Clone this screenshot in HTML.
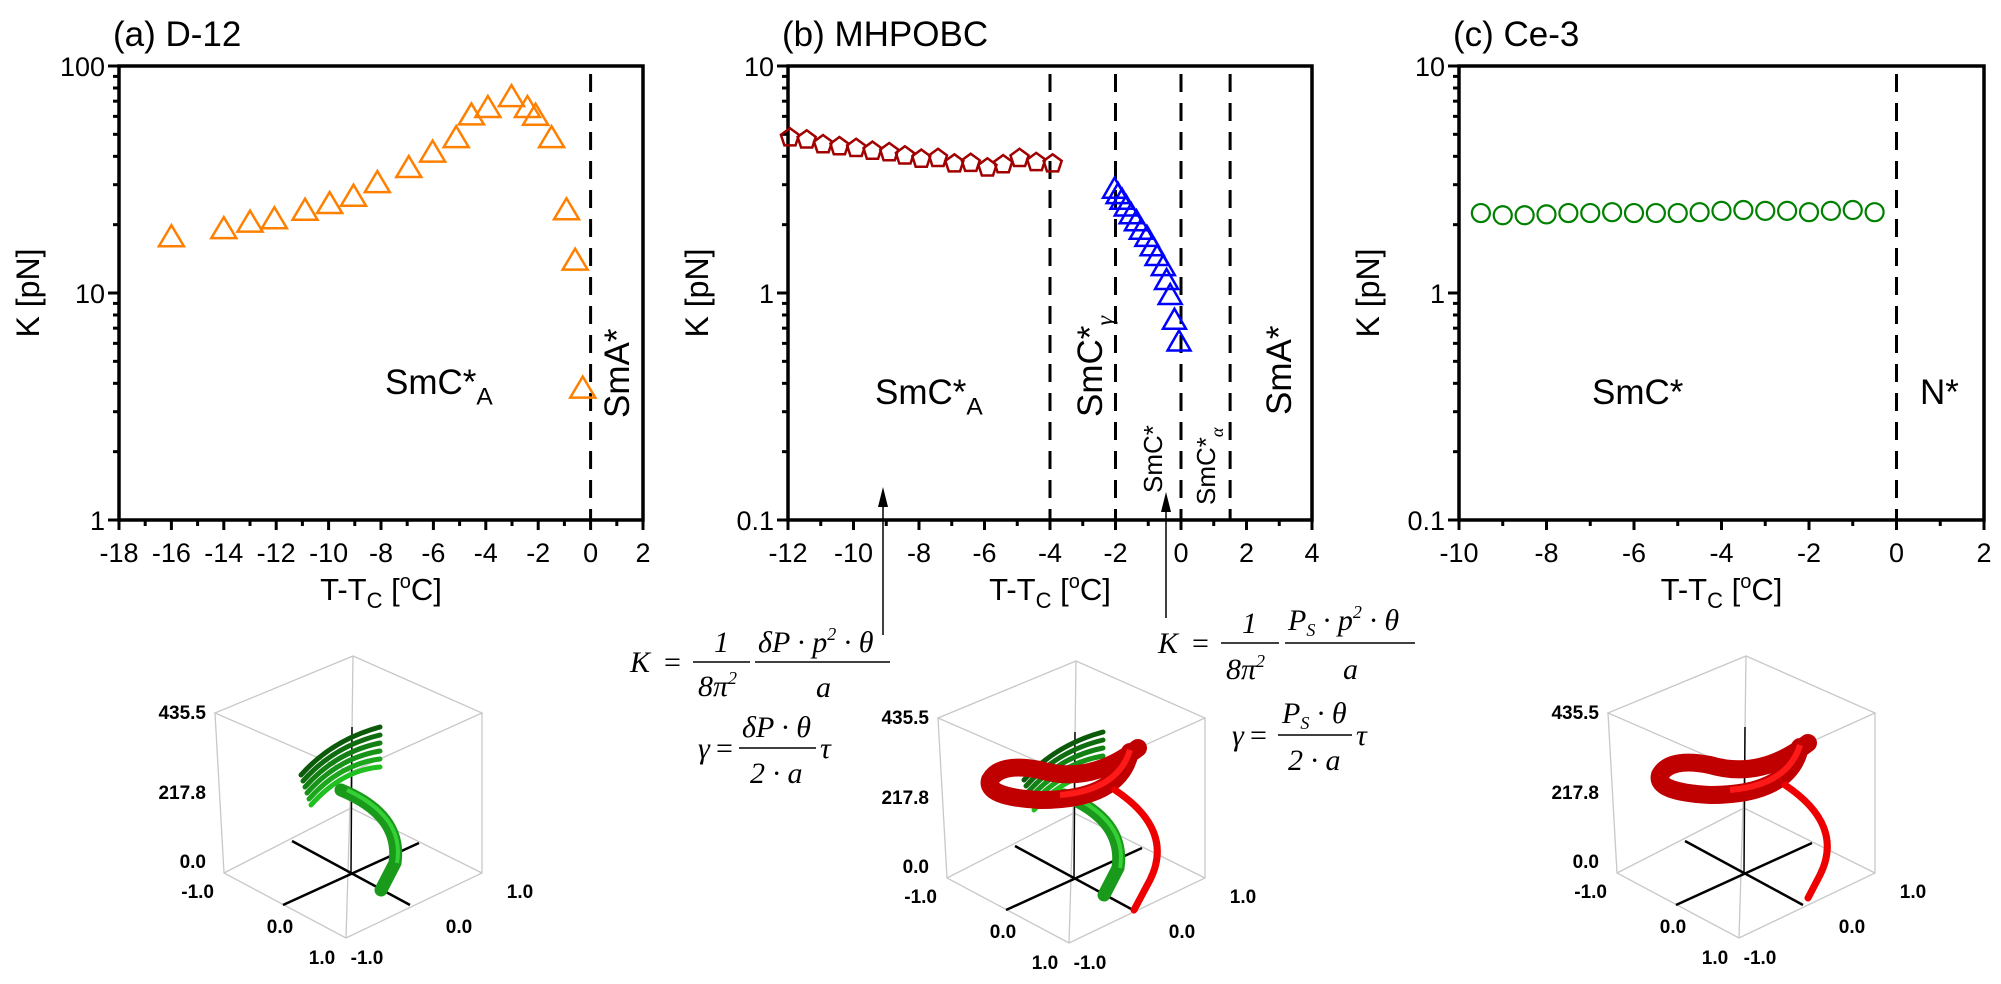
<!DOCTYPE html>
<html><head><meta charset="utf-8">
<style>
html,body{margin:0;padding:0;background:#fff;}
svg{display:block;font-family:"Liberation Sans",Arial,sans-serif;}
.f{font-family:"Liberation Serif",serif;font-style:italic;}
</style></head>
<body>
<svg id="fig" width="2001" height="984" viewBox="0 0 2001 984" xmlns="http://www.w3.org/2000/svg">
<g id="charts"></g>
<g id="anno">
  <g font-size="30">
    <text class="f" x="630" y="672">K</text><text x="664" y="672" font-family="Liberation Serif">=</text>
    <line x1="693" y1="662" x2="750" y2="662" stroke="#000" stroke-width="1.5"/>
    <text class="f" x="714" y="652" font-style="normal">1</text>
    <text class="f" x="698" y="696">8π<tspan font-size="18" dy="-12">2</tspan></text>
    <line x1="755" y1="662" x2="890" y2="662" stroke="#000" stroke-width="1.5"/>
    <text class="f" x="758" y="652">δP · p<tspan font-size="18" dy="-12">2</tspan><tspan dy="12"> · θ</tspan></text>
    <text class="f" x="816" y="697">a</text>
    <text class="f" x="698" y="758">γ</text><text x="716" y="758" font-family="Liberation Serif">=</text>
    <line x1="739" y1="748" x2="816" y2="748" stroke="#000" stroke-width="1.5"/>
    <text class="f" x="742" y="737">δP · θ</text>
    <text class="f" x="750" y="783">2 · a</text>
    <text class="f" x="820" y="758">τ</text>
  </g>
  <g font-size="30">
    <text class="f" x="1158" y="653">K</text><text x="1192" y="653" font-family="Liberation Serif">=</text>
    <line x1="1221" y1="643" x2="1279" y2="643" stroke="#000" stroke-width="1.5"/>
    <text class="f" x="1242" y="633" font-style="normal">1</text>
    <text class="f" x="1226" y="679">8π<tspan font-size="18" dy="-12">2</tspan></text>
    <line x1="1285" y1="643" x2="1415" y2="643" stroke="#000" stroke-width="1.5"/>
    <text class="f" x="1288" y="630">P<tspan font-size="18" dy="6">S</tspan><tspan dy="-6"> · p</tspan><tspan font-size="18" dy="-12">2</tspan><tspan dy="12"> · θ</tspan></text>
    <text class="f" x="1343" y="679">a</text>
    <text class="f" x="1232" y="745">γ</text><text x="1250" y="745" font-family="Liberation Serif">=</text>
    <line x1="1278" y1="735" x2="1352" y2="735" stroke="#000" stroke-width="1.5"/>
    <text class="f" x="1282" y="723">P<tspan font-size="18" dy="6">S</tspan><tspan dy="-6"> · θ</tspan></text>
    <text class="f" x="1288" y="770">2 · a</text>
    <text class="f" x="1356" y="745">τ</text>
  </g>
  <g>
    <line x1="883" y1="635" x2="883" y2="505" stroke="#000" stroke-width="1.5"/>
    <polygon points="883,487 878,507 888,507" fill="#000"/>
  </g>
  <g>
    <line x1="1166" y1="618" x2="1166" y2="510" stroke="#000" stroke-width="1.5"/>
    <polygon points="1166,492 1161,512 1171,512" fill="#000"/>
  </g>
</g>
<g id="cubes"></g>
</svg>
<script>
// ---------- data ----------
const aX = [-16,-14,-13,-12.07,-10.9,-9.96,-9.05,-8.14,-6.94,-6.03,-5.13,-4.55,-3.92,-3.02,-2.41,-2.1,-1.49,-0.92,-0.59,-0.3];
const aK = [17.5,19,20.3,21,22.9,24.5,26.4,30.3,35.3,41.3,47.8,60.2,64.9,72.5,64.9,60,47.8,23,13.8,3.77];
const bX1 = [-11.94,-11.43,-10.93,-10.43,-9.92,-9.42,-8.91,-8.43,-7.93,-7.42,-6.92,-6.42,-5.91,-5.43,-4.93,-4.42,-3.92];
const bK1 = [4.83,4.73,4.51,4.42,4.34,4.22,4.16,4.02,3.89,3.92,3.71,3.73,3.56,3.68,3.92,3.76,3.71];
const bX2 = [-2.03,-1.92,-1.8,-1.67,-1.52,-1.36,-1.21,-1.04,-0.88,-0.73,-0.54,-0.44,-0.33,-0.2,-0.06];
const bK2 = [2.85,2.7,2.55,2.38,2.2,2.05,1.88,1.75,1.59,1.44,1.3,1.13,0.97,0.755,0.605];
const cX = [-9.5,-9,-8.5,-8,-7.5,-7,-6.5,-6,-5.5,-5,-4.5,-4,-3.5,-3,-2.5,-2,-1.5,-1,-0.5];
const cK = [2.25,2.2,2.2,2.22,2.25,2.25,2.27,2.25,2.25,2.25,2.27,2.3,2.32,2.3,2.3,2.27,2.3,2.32,2.27];
const aXTicks = [-18,-16,-14,-12,-10,-8,-6,-4,-2,0,2];
const bXTicks = [-12,-10,-8,-6,-4,-2,0,2,4];
const cXTicks = [-10,-8,-6,-4,-2,0,2];
const aYTicks = ["1","10","100"];
const bYTicks = ["0.1","1","10"];
const cYTicks = ["0.1","1","10"];
const aPhase = [0];
const bPhase = [-4,-2,0,1.5];
const cPhase = [0];

const NS = "http://www.w3.org/2000/svg";
const charts = document.getElementById('charts');
function mk(tag, attrs, parent){
  const e = document.createElementNS(NS, tag);
  for (const k in attrs) e.setAttribute(k, attrs[k]);
  (parent||charts).appendChild(e);
  return e;
}
const TOP=66, BOT=520;
function panel(cfg){
  const g = mk('g', {});
  
  
  const xs = v => cfg.x0 + (v - cfg.xmin) / (cfg.xmax - cfg.xmin) * (cfg.x1 - cfg.x0);
  const lmin = Math.log10(cfg.ymin), lmax = Math.log10(cfg.ymax);
  const ys = v => BOT - (Math.log10(v) - lmin) / (lmax - lmin) * (BOT - TOP);
  cfg.phase.forEach(p => {
    const l = mk('line', {x1: xs(p), x2: xs(p), y1: TOP+8, y2: BOT, stroke:'#000', 'stroke-width':3, 'stroke-dasharray':'18 11'}, g);
    
    
  });
  const box = mk('rect', {x: cfg.x0, y: TOP, width: cfg.x1-cfg.x0, height: BOT-TOP, fill:'none', stroke:'#000', 'stroke-width':3.5}, g);
  
  
  for (let v = cfg.xmin; v <= cfg.xmax + 0.001; v += 1) {
    const major = cfg.xticks.indexOf(v) >= 0;
    mk('line', {x1: xs(v), x2: xs(v), y1: BOT, y2: BOT + (major ? 10 : 6), stroke:'#000', 'stroke-width':3}, g);
  }
  cfg.xticks.forEach(v => {
    const t = mk('text', {x: xs(v), y: 562, 'font-size':27, 'text-anchor':'middle'}, g);
    t.textContent = String(v);
    
    
  });
  for (let d = lmin; d < lmax; d++) {
    for (let m = 2; m <= 9; m++) {
      const y = ys(m * Math.pow(10, d));
      mk('line', {x1: cfg.x0 - 6, x2: cfg.x0, y1: y, y2: y, stroke:'#000', 'stroke-width':3}, g);
    }
  }
  cfg.yticks.forEach((s, i) => {
    const y = ys(parseFloat(s));
    mk('line', {x1: cfg.x0 - 11, x2: cfg.x0, y1: y, y2: y, stroke:'#000', 'stroke-width':3}, g);
    const t = mk('text', {x: cfg.x0 - 14, y: y + 10, 'font-size':27, 'text-anchor':'end'}, g);
    t.textContent = s;
    
    
  });
  const tt = mk('text', {x: cfg.x0 - 6, y: 46, 'font-size':35}, g);
  tt.textContent = cfg.title;
  
  
  const yt = mk('text', {transform:`translate(${cfg.x0-80},293) rotate(-90)`, 'font-size':32, 'text-anchor':'middle'}, g);
  yt.textContent = 'K [pN]';
  
  
  const xt = mk('text', {x: (cfg.x0+cfg.x1)/2, y: 600, 'font-size':31, 'text-anchor':'middle'}, g);
  xt.innerHTML = 'T-T<tspan font-size="22" dy="8">C</tspan><tspan dy="-8"> [</tspan><tspan font-size="20" dy="-12">o</tspan><tspan dy="12">C]</tspan>';
  
  
  return {g, xs, ys};
}
function triangle(g, x, y, color, w, h){
  return mk('polygon', {points:`${x},${y-h*0.6} ${x-w/2},${y+h*0.4} ${x+w/2},${y+h*0.4}`, fill:'none', stroke:color, 'stroke-width':2.5}, g);
}
function label(g, txt, sub, x, y, size, rot, name){
  const t = mk('text', {'font-size':size}, g);
  if (rot) t.setAttribute('transform', `translate(${x},${y}) rotate(-90)`);
  else { t.setAttribute('x', x); t.setAttribute('y', y); }
  t.innerHTML = txt + (sub ? `<tspan font-size="${size*0.7}" dy="${size*0.3}">${sub}</tspan>` : '');
  
  
}

const A = panel({name:'panel-a-d12', title:'(a) D-12', x0:119, x1:643, xmin:-18, xmax:2, ymin:1, ymax:100, xticks:aXTicks, yticks:aYTicks, phase:aPhase});
aX.forEach((x, i) => {
  const p = triangle(A.g, A.xs(x), A.ys(aK[i]), '#ff8000', 25, 21);
  
  
});
label(A.g, 'SmC*', 'A', 385, 394, 35, false, 'phase-label-smca');
label(A.g, 'SmA*', '', 629, 418, 35, true, 'phase-label-sma');

const B = panel({name:'panel-b-mhpobc', title:'(b) MHPOBC', x0:788, x1:1312, xmin:-12, xmax:4, ymin:0.1, ymax:10, xticks:bXTicks, yticks:bYTicks, phase:bPhase});
bX1.forEach((x, i) => {
  const cx = B.xs(x), cy = B.ys(bK1[i]), r = 9.5;
  let pts = [];
  for (let k = 0; k < 5; k++) { const a = -Math.PI/2 + k*2*Math.PI/5; pts.push((cx + r*Math.cos(a)).toFixed(1) + ',' + (cy + r*Math.sin(a)).toFixed(1)); }
  const p = mk('polygon', {points: pts.join(' '), fill:'none', stroke:'#a00000', 'stroke-width':2.5}, B.g);
  
  
});
bX2.forEach((x, i) => {
  const p = triangle(B.g, B.xs(x), B.ys(bK2[i]), '#0000ff', 23, 20);
  
  
});
label(B.g, 'SmC*', 'A', 875, 404, 35, false, 'phase-label-smca');
label(B.g, 'SmC*', '<tspan font-family="Liberation Serif" font-style="italic">γ</tspan>', 1102, 417, 35, true, 'phase-label-smcg');
label(B.g, 'SmC*', '', 1162, 493, 26, true, 'phase-label-smc');
label(B.g, 'SmC*', '<tspan font-family="Liberation Serif" font-style="italic">α</tspan>', 1215, 505, 26, true, 'phase-label-smcalpha');
label(B.g, 'SmA*', '', 1291, 415, 35, true, 'phase-label-sma');

const C = panel({name:'panel-c-ce3', title:'(c) Ce-3', x0:1459, x1:1984, xmin:-10, xmax:2, ymin:0.1, ymax:10, xticks:cXTicks, yticks:cYTicks, phase:cPhase});
cX.forEach((x, i) => {
  const p = mk('circle', {cx: C.xs(x), cy: C.ys(cK[i]), r:9, fill:'none', stroke:'#008000', 'stroke-width':2.2}, C.g);
  
  
});
label(C.g, 'SmC*', '', 1592, 404, 35, false, 'phase-label-smc');
label(C.g, 'N*', '', 1920, 404, 35, false, 'phase-label-n');

const cubes = document.getElementById('cubes');
function cube(dx, dy, name, kind){
  const g = document.createElementNS(NS, 'g');
  g.setAttribute('transform', `translate(${dx},${dy})`);
  
  
  cubes.appendChild(g);
  const grey = {stroke:'#c8c8c8', 'stroke-width':1.3, fill:'none'};
  mk('path', Object.assign({d:'M938,718 L1076,661 L1205,718 L1074,777 Z M938,718 L947,878 L1069,943 L1205,878 L1205,718 M1074,777 L1069,943 M1076,661 L1074,813 M947,878 L1074,813 L1205,878'}, grey), g);
  mk('path', {d:'M1006,910 L1142,848 M1015,846 L1133,910', stroke:'#000', 'stroke-width':2.5, fill:'none'}, g);
  mk('line', {x1:1074, y1:878, x2:1075, y2:732, stroke:'#000', 'stroke-width':1.5}, g);
  const lab = [['435.5',929,724],['217.8',929,804],['0.0',929,873],['-1.0',937,903],['0.0',1003,938],['1.0',1045,969],['-1.0',1090,969],['1.0',1243,903],['0.0',1182,938]];
  lab.forEach(l => {
    const t = mk('text', {x:l[1], y:l[2], 'font-size':19, 'font-weight':'bold', 'text-anchor': (l[1] > 990 ? 'middle' : 'end')}, g);
    t.textContent = l[0];
    
    
  });
  if (kind.indexOf('g') >= 0) {
    const cols = ['#0a5a0a','#0f6d0f','#138013','#179317','#1ba61b','#20c020'];
    cols.forEach((c, i) => {
      mk('path', {d:`M${1024+i*2},${780+i*6} Q${1055+i*2},${745+i*6} ${1103},${732+i*8}`, stroke:c, 'stroke-width':5, fill:'none', 'stroke-linecap':'round'}, g);
    });
    mk('path', {d:'M1064,795 Q1125,820 1118,868 L1104,895', stroke:'#1a9a1a', 'stroke-width':13, fill:'none', 'stroke-linecap':'round'}, g);
    mk('path', {d:'M1070,795 Q1128,822 1120,868', stroke:'#35d035', 'stroke-width':4, fill:'none'}, g);
  }
  if (kind.indexOf('r') >= 0) {
    mk('path', {d:'M1130,752 Q1120,800 1040,800 Q985,797 990,780 Q1000,762 1040,770 Q1090,785 1138,748', stroke:'#c00000', 'stroke-width':18, fill:'none', 'stroke-linecap':'round'}, g);
    mk('path', {d:'M1130,750 Q1118,790 1060,795', stroke:'#ff1a1a', 'stroke-width':6, fill:'none'}, g);
    mk('path', {d:`M1115,790 Q1175,830 1150,880 L${kind==='r'?1138:1134},${kind==='r'?903:910}`, stroke:'#ee0000', 'stroke-width':7, fill:'none', 'stroke-linecap':'round'}, g);
  }
}
cube(-723, -5, 'helix-3d-d12', 'g');
cube(0, 0, 'helix-3d-mhpobc', 'gr');
cube(670, -5, 'helix-3d-ce3', 'r');
</script>
</body></html>
